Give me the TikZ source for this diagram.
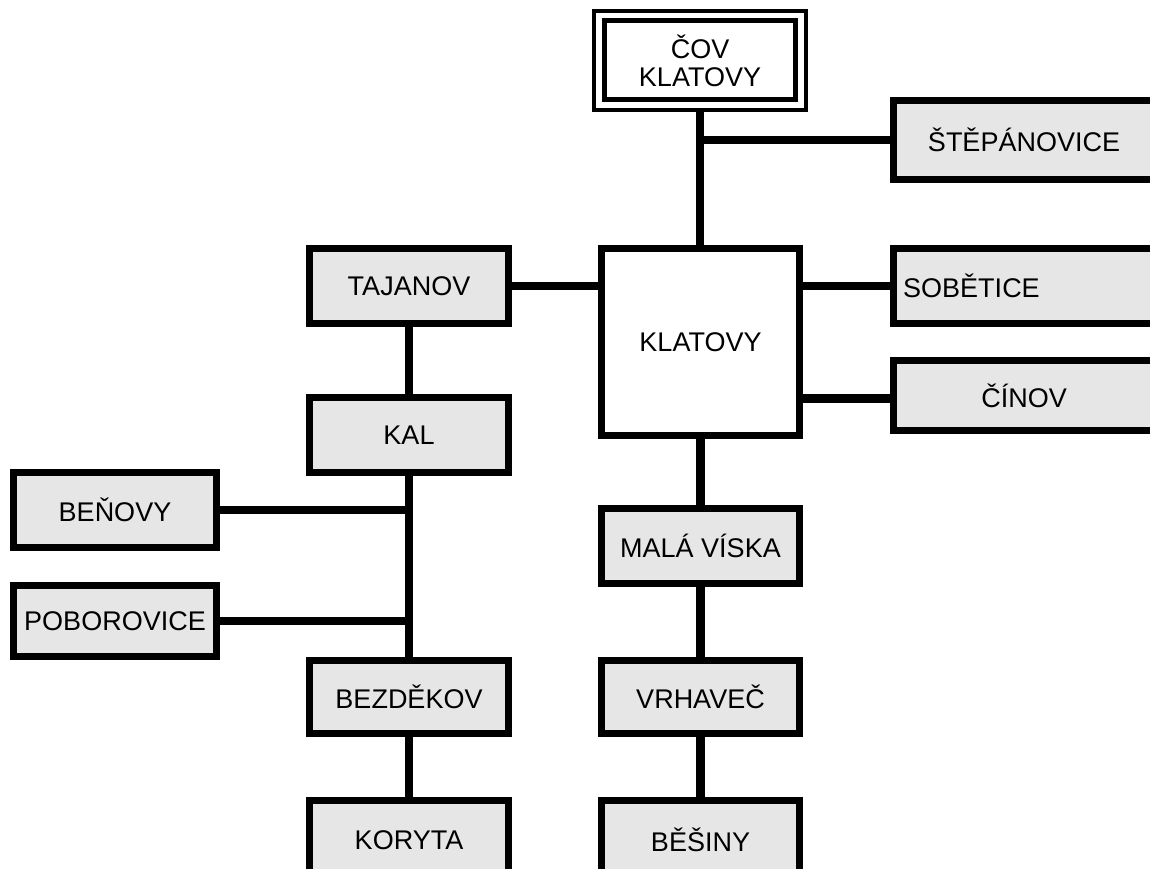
\documentclass[tikz,border=0pt]{standalone}
\usepackage{fontspec}
\setmainfont{Liberation Sans}
\usetikzlibrary{fit}
\definecolor{boxgray}{RGB}{230,230,230}
\tikzset{
  labelfont/.style={font=\fontsize{27pt}{28pt}\selectfont},
  place/.style={draw=black, line width=7pt, fill=boxgray, inner sep=0pt,
    labelfont, text=black},
  link/.style={draw=black, line width=8.5pt},
}
\begin{document}
\begin{tikzpicture}[x=1pt, y=-1pt]
  \useasboundingbox (0,0) rectangle (1150,869);
  \clip (0,0) rectangle (1150,869);

  % main treatment plant, framed twice
  \node[place, fill=white, line width=5pt, align=center,
        minimum width=190.5pt, minimum height=79.2pt] (cov) at (700,60.4) {ČOV\\KLATOVY};
  \node[draw=black, line width=4.5pt, inner xsep=8.3pt, inner ysep=7.5pt, fit=(cov)] (covframe) {};

  % central town
  \node[place, fill=white, minimum width=198pt, minimum height=187pt] (klatovy) at (700.5,342) {KLATOVY};

  % right branch
  \node[place, minimum width=261pt, minimum height=79pt] (stepanovice) at (1024,140) {ŠTĚPÁNOVICE};
  \node[place, minimum width=261pt, minimum height=75pt] (sobetice) at (1024,286) {};
  \node[labelfont, anchor=west, inner sep=0pt] (sobeticetext) at (903,286) {SOBĚTICE};
  \node[place, minimum width=261pt, minimum height=70pt] (cinov) at (1024,395.5) {ČÍNOV};

  % middle column
  \node[place, minimum width=198pt, minimum height=75pt] (mala) at (700.5,546) {MALÁ VÍSKA};
  \node[place, minimum width=198pt, minimum height=73pt] (vrhavec) at (700.5,697) {VRHAVEČ};
  \node[place, minimum width=198pt, minimum height=79pt] (besiny) at (700.5,840) {BĚŠINY};

  % left column
  \node[place, minimum width=199pt, minimum height=75pt] (tajanov) at (409,286) {TAJANOV};
  \node[place, minimum width=199pt, minimum height=75pt] (kal) at (409,435) {KAL};
  \node[place, minimum width=199pt, minimum height=73pt] (bezdekov) at (409,697) {BEZDĚKOV};
  \node[place, minimum width=199pt, minimum height=79pt] (koryta) at (409,840) {KORYTA};

  % far left
  \node[place, minimum width=203pt, minimum height=75pt] (benovy) at (115,510) {BEŇOVY};
  \node[place, minimum width=203pt, minimum height=71pt] (poborovice) at (115,621) {POBOROVICE};

  % connectors
  \draw[link] (covframe.south) -- (covframe.south |- klatovy.north);
  \draw[link] (stepanovice.west) -- (stepanovice.west -| klatovy.north);
  \draw[link] (tajanov.east) -- (tajanov.east -| klatovy.west);
  \draw[link] (sobetice.west) -- (sobetice.west -| klatovy.east);
  \draw[link] ([yshift=-3pt]cinov.west) -- ([yshift=-3pt]cinov.west -| klatovy.east);
  \draw[link] (klatovy.south) -- (mala.north);
  \draw[link] (mala.south) -- (vrhavec.north);
  \draw[link] (vrhavec.south) -- (besiny.north);
  \draw[link] (tajanov.south) -- (kal.north);
  \draw[link] (kal.south) -- (bezdekov.north);
  \draw[link] (bezdekov.south) -- (koryta.north);
  \draw[link] (benovy.east) -- (benovy.east -| kal.south);
  \draw[link] (poborovice.east) -- (poborovice.east -| kal.south);
\end{tikzpicture}
\end{document}
